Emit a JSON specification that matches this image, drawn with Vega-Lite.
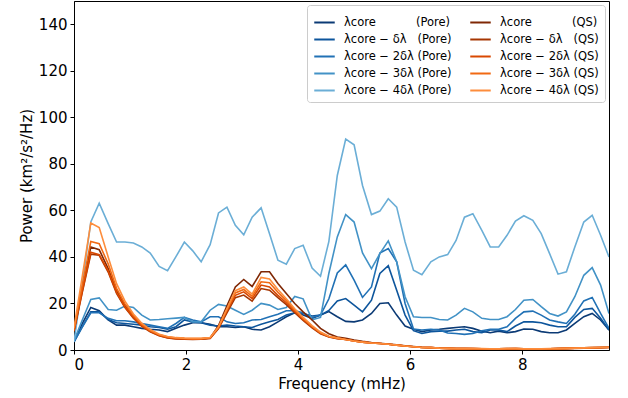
{
 "$schema": "https://vega.github.io/schema/vega-lite/v6.json",
 "width": 535, "height": 349,
 "autosize": {"type": "none"},
 "padding": {"left": 74, "top": 1, "right": 19, "bottom": 48},
 "background": "white",
 "data": {"values": [
  {"f":0,"p0":3.5,"p1":3.5,"p2":3.5,"p3":4,"p4":3.5,"q0":8.5,"q1":8,"q2":8.2,"q3":8.8,"q4":9.5},
  {"f":0.15,"p0":11.4,"p1":10,"p2":10,"p3":13,"p4":29,"q0":27,"q1":25,"q2":25.5,"q3":28,"q4":32},
  {"f":0.30,"p0":18.3,"p1":16.4,"p2":16,"p3":21.7,"p4":55,"q0":44.3,"q1":41.2,"q2":42,"q3":46.6,"q4":54.6},
  {"f":0.45,"p0":16.9,"p1":16.4,"p2":16,"p3":22.4,"p4":63.1,"q0":43.1,"q1":40.7,"q2":41,"q3":45.7,"q4":52.6},
  {"f":0.61,"p0":12.9,"p1":13.1,"p2":13.6,"p3":17.4,"p4":54.3,"q0":35,"q1":33.5,"q2":34,"q3":37,"q4":40},
  {"f":0.76,"p0":10.7,"p1":11.7,"p2":12.6,"p3":17.1,"p4":46.4,"q0":25.5,"q1":24.3,"q2":24.8,"q3":26.5,"q4":28.5},
  {"f":0.91,"p0":10.7,"p1":11.4,"p2":12.6,"p3":18.9,"p4":46.4,"q0":19,"q1":18.2,"q2":18.5,"q3":19.8,"q4":21},
  {"f":1.06,"p0":10,"p1":11.1,"p2":12.1,"p3":18.3,"p4":46,"q0":14.3,"q1":13.7,"q2":14,"q3":14.8,"q4":15.5},
  {"f":1.21,"p0":9.3,"p1":10.7,"p2":11.4,"p3":15,"p4":44.3,"q0":10.7,"q1":10.2,"q2":10.4,"q3":11,"q4":11.5},
  {"f":1.36,"p0":8.9,"p1":10,"p2":10.7,"p3":12.9,"p4":41.7,"q0":8.2,"q1":7.8,"q2":8,"q3":8.4,"q4":8.8},
  {"f":1.52,"p0":8.6,"p1":9.7,"p2":10,"p3":13.1,"p4":35.9,"q0":6.4,"q1":6.1,"q2":6.2,"q3":6.6,"q4":6.8},
  {"f":1.67,"p0":7.9,"p1":8.9,"p2":9.3,"p3":13.4,"p4":34.1,"q0":5.5,"q1":5.2,"q2":5.3,"q3":5.6,"q4":5.8},
  {"f":1.82,"p0":9.3,"p1":10,"p2":11.4,"p3":13.7,"p4":40.1,"q0":5.1,"q1":4.8,"q2":4.9,"q3":5.2,"q4":5.3},
  {"f":1.97,"p0":10.7,"p1":12.9,"p2":14,"p3":14,"p4":46.4,"q0":4.9,"q1":4.6,"q2":4.7,"q3":5.0,"q4":5.1},
  {"f":2.12,"p0":11.7,"p1":12.1,"p2":12.9,"p3":12.1,"p4":42.6,"q0":4.8,"q1":4.5,"q2":4.6,"q3":4.9,"q4":5.0},
  {"f":2.27,"p0":11.7,"p1":11.7,"p2":12.1,"p3":12.1,"p4":37.9,"q0":4.8,"q1":4.6,"q2":4.7,"q3":4.9,"q4":5.0},
  {"f":2.43,"p0":11.1,"p1":10.7,"p2":14.3,"p3":17.1,"p4":45.3,"q0":5.2,"q1":5.0,"q2":5.1,"q3":5.3,"q4":5.4},
  {"f":2.58,"p0":10,"p1":10.3,"p2":14.3,"p3":19.6,"p4":58.9,"q0":10.5,"q1":9.2,"q2":9.5,"q3":9.8,"q4":10},
  {"f":2.73,"p0":10,"p1":10.7,"p2":12.1,"p3":18.9,"p4":61.4,"q0":19,"q1":16,"q2":16.8,"q3":17.3,"q4":17.8},
  {"f":2.88,"p0":9.7,"p1":10.3,"p2":11.4,"p3":17.1,"p4":53.6,"q0":27.1,"q1":22.5,"q2":23.5,"q3":24.5,"q4":25.5},
  {"f":3.03,"p0":10,"p1":10,"p2":11.7,"p3":15.3,"p4":49.5,"q0":30.3,"q1":23.6,"q2":25,"q3":26,"q4":27.1},
  {"f":3.18,"p0":8.9,"p1":9.7,"p2":12.9,"p3":17.1,"p4":57.1,"q0":27.3,"q1":21,"q2":22.1,"q3":23.1,"q4":24},
  {"f":3.34,"p0":8.6,"p1":11.1,"p2":13.1,"p3":20,"p4":61.1,"q0":33.6,"q1":26.4,"q2":27.9,"q3":29.3,"q4":31.2},
  {"f":3.49,"p0":10,"p1":12.1,"p2":14.3,"p3":19.3,"p4":50,"q0":33.6,"q1":25.7,"q2":27.1,"q3":28.9,"q4":30.5},
  {"f":3.64,"p0":12.1,"p1":13.1,"p2":15.4,"p3":17.4,"p4":38.6,"q0":28.6,"q1":22.5,"q2":23.5,"q3":24.8,"q4":26},
  {"f":3.79,"p0":14.3,"p1":15,"p2":16.9,"p3":18.3,"p4":36.9,"q0":24.3,"q1":19.5,"q2":20.3,"q3":21.2,"q4":22},
  {"f":3.94,"p0":16,"p1":16,"p2":16.9,"p3":23,"p4":43.6,"q0":20,"q1":16,"q2":16.6,"q3":17.2,"q4":17.7},
  {"f":4.09,"p0":15,"p1":15.7,"p2":16,"p3":22,"p4":45,"q0":16.4,"q1":12.7,"q2":13.1,"q3":13.6,"q4":14},
  {"f":4.25,"p0":13.6,"p1":14.6,"p2":14,"p3":13,"p4":35.2,"q0":12.9,"q1":9.5,"q2":9.8,"q3":10.1,"q4":10.5},
  {"f":4.40,"p0":15,"p1":15,"p2":15,"p3":14,"p4":31.7,"q0":9.3,"q1":7,"q2":7.2,"q3":7.4,"q4":7.7},
  {"f":4.55,"p0":16.5,"p1":17,"p2":22,"p3":33,"p4":46.7,"q0":7,"q1":5.6,"q2":5.7,"q3":5.8,"q4":5.9},
  {"f":4.70,"p0":14.3,"p1":21.1,"p2":33.1,"p3":48.6,"p4":75,"q0":5.6,"q1":4.9,"q2":5,"q3":5.1,"q4":5.2},
  {"f":4.85,"p0":12.3,"p1":22.1,"p2":36.6,"p3":58.2,"p4":90.7,"q0":5,"q1":4.5,"q2":4.5,"q3":4.5,"q4":4.5},
  {"f":5.00,"p0":12.1,"p1":19.3,"p2":30,"p3":55,"p4":88.2,"q0":4.3,"q1":3.9,"q2":3.9,"q3":3.9,"q4":3.9},
  {"f":5.15,"p0":12.9,"p1":16.4,"p2":22.6,"p3":41.7,"p4":70.7,"q0":3.7,"q1":3.4,"q2":3.4,"q3":3.4,"q4":3.4},
  {"f":5.31,"p0":15.7,"p1":21.4,"p2":27.1,"p3":35,"p4":58.2,"q0":3.2,"q1":3.0,"q2":3.0,"q3":3.0,"q4":3.0},
  {"f":5.46,"p0":20,"p1":32.9,"p2":41.7,"p3":41.4,"p4":59.7,"q0":2.9,"q1":2.8,"q2":2.8,"q3":2.8,"q4":2.8},
  {"f":5.61,"p0":20.3,"p1":36.2,"p2":43.6,"p3":46.9,"p4":65,"q0":2.6,"q1":2.5,"q2":2.5,"q3":2.5,"q4":2.5},
  {"f":5.76,"p0":15,"p1":25.7,"p2":37.9,"p3":37.9,"p4":61.4,"q0":2.2,"q1":2.1,"q2":2.1,"q3":2.1,"q4":2.1},
  {"f":5.91,"p0":10.3,"p1":15,"p2":20,"p3":22.9,"p4":46.4,"q0":1.8,"q1":1.7,"q2":1.7,"q3":1.7,"q4":1.7},
  {"f":6.06,"p0":8.9,"p1":8.3,"p2":9,"p3":14.3,"p4":34.3,"q0":1.5,"q1":1.4,"q2":1.4,"q3":1.4,"q4":1.4},
  {"f":6.21,"p0":7.9,"p1":7.1,"p2":8.6,"p3":14,"p4":32.4,"q0":1.2,"q1":1.1,"q2":1.1,"q3":1.1,"q4":1.1},
  {"f":6.37,"p0":8.6,"p1":7.9,"p2":8.9,"p3":14,"p4":37.9,"q0":1.0,"q1":1.0,"q2":1.0,"q3":1.0,"q4":1.0},
  {"f":6.52,"p0":8.9,"p1":8.1,"p2":8.6,"p3":13.1,"p4":40,"q0":0.8,"q1":0.8,"q2":0.8,"q3":0.8,"q4":0.8},
  {"f":6.67,"p0":9.3,"p1":8.1,"p2":7.3,"p3":12.9,"p4":41,"q0":0.7,"q1":0.7,"q2":0.7,"q3":0.7,"q4":0.7},
  {"f":6.82,"p0":9.7,"p1":8.6,"p2":7.1,"p3":15,"p4":47.1,"q0":0.6,"q1":0.6,"q2":0.6,"q3":0.6,"q4":0.6},
  {"f":6.97,"p0":10,"p1":8.9,"p2":6.7,"p3":17.9,"p4":57.1,"q0":0.6,"q1":0.6,"q2":0.6,"q3":0.6,"q4":0.6},
  {"f":7.12,"p0":9.3,"p1":7.9,"p2":7.1,"p3":16.4,"p4":58.6,"q0":0.6,"q1":0.5,"q2":0.6,"q3":0.6,"q4":0.6},
  {"f":7.28,"p0":8.1,"p1":7.4,"p2":8.3,"p3":13.6,"p4":51.4,"q0":0.5,"q1":0.5,"q2":0.5,"q3":0.5,"q4":0.6},
  {"f":7.43,"p0":7.4,"p1":8.6,"p2":8.9,"p3":13.1,"p4":44.3,"q0":0.5,"q1":0.5,"q2":0.5,"q3":0.5,"q4":0.5},
  {"f":7.58,"p0":8.1,"p1":8.6,"p2":8.9,"p3":13.1,"p4":44.3,"q0":0.5,"q1":0.5,"q2":0.5,"q3":0.5,"q4":0.5},
  {"f":7.73,"p0":7.4,"p1":7.9,"p2":10,"p3":14.3,"p4":49.3,"q0":0.6,"q1":0.5,"q2":0.5,"q3":0.6,"q4":0.6},
  {"f":7.88,"p0":7.9,"p1":10.3,"p2":13.6,"p3":17.4,"p4":55.4,"q0":0.6,"q1":0.5,"q2":0.6,"q3":0.6,"q4":0.6},
  {"f":8.03,"p0":9,"p1":12.1,"p2":16.4,"p3":21.4,"p4":57.7,"q0":0.5,"q1":0.5,"q2":0.5,"q3":0.5,"q4":0.5},
  {"f":8.19,"p0":8.9,"p1":12.1,"p2":16.7,"p3":21.7,"p4":55.7,"q0":0.5,"q1":0.5,"q2":0.5,"q3":0.5,"q4":0.5},
  {"f":8.34,"p0":7.9,"p1":11.7,"p2":15,"p3":18.6,"p4":50,"q0":0.5,"q1":0.5,"q2":0.5,"q3":0.5,"q4":0.5},
  {"f":8.49,"p0":7.4,"p1":10.7,"p2":12.9,"p3":15.7,"p4":41.4,"q0":0.5,"q1":0.5,"q2":0.5,"q3":0.5,"q4":0.6},
  {"f":8.64,"p0":7.4,"p1":10,"p2":12.1,"p3":14.6,"p4":32.6,"q0":0.6,"q1":0.6,"q2":0.6,"q3":0.6,"q4":0.6},
  {"f":8.79,"p0":8.6,"p1":10,"p2":11.4,"p3":16.4,"p4":33.6,"q0":0.7,"q1":0.6,"q2":0.7,"q3":0.7,"q4":0.7},
  {"f":8.94,"p0":11.4,"p1":14,"p2":15.4,"p3":22.9,"p4":44.3,"q0":0.8,"q1":0.7,"q2":0.8,"q3":0.8,"q4":0.8},
  {"f":9.10,"p0":14.3,"p1":17.4,"p2":21.1,"p3":32.1,"p4":55,"q0":0.9,"q1":0.8,"q2":0.8,"q3":0.9,"q4":0.9},
  {"f":9.25,"p0":15.7,"p1":17.9,"p2":22.6,"p3":35.4,"p4":57.9,"q0":1.0,"q1":0.9,"q2":0.9,"q3":1.0,"q4":1.0},
  {"f":9.40,"p0":12.9,"p1":13.6,"p2":15.7,"p3":27.9,"p4":49.3,"q0":1.1,"q1":1.0,"q2":1.0,"q3":1.1,"q4":1.1},
  {"f":9.55,"p0":8.6,"p1":8.6,"p2":9.3,"p3":15.7,"p4":40,"q0":1.2,"q1":1.1,"q2":1.1,"q3":1.2,"q4":1.2}
 ]},
 "transform": [{"fold": ["p0","p1","p2","p3","p4","q0","q1","q2","q3","q4"], "as": ["s","v"]}],
 "encoding": {
  "x": {"field": "f", "type": "quantitative",
        "scale": {"domain": [0, 9.55], "nice": false, "zero": false},
        "axis": {"title": "Frequency (mHz)", "values": [0,2,4,6,8], "format": "d"}},
  "y": {"field": "v", "type": "quantitative",
        "scale": {"domain": [0, 150], "nice": false},
        "axis": {"title": "Power (km²/s²/Hz)", "values": [0,20,40,60,80,100,120,140]}},
  "color": {"field": "s", "type": "nominal",
   "scale": {"domain": ["p0","p1","p2","p3","p4","q0","q1","q2","q3","q4"],
             "range": ["#0b3a75","#0d559c","#2171b5","#4292c6","#6baed6","#7f2704","#a63603","#d94801","#f16913","#fd8d3c"]},
   "legend": {"title": null, "orient": "top-right", "columns": 2, "offset": 4,
     "symbolType": "stroke", "symbolStrokeWidth": 2, "symbolSize": 420,
     "labelFont": "DejaVu Sans", "labelFontSize": 11.5, "labelColor": "black", "labelLimit": 300,
     "strokeColor": "#cccccc", "fillColor": "rgba(255,255,255,0.8)", "padding": 6, "cornerRadius": 3,
     "rowPadding": 0, "columnPadding": 14, "labelOffset": 8,
     "labelExpr": "datum.label=='p0'?'λcore\u00a0\u00a0\u00a0\u00a0\u00a0\u00a0\u00a0\u00a0\u00a0\u00a0\u00a0(Pore)':datum.label=='p1'?'λcore − δλ\u00a0\u00a0\u00a0(Pore)':datum.label=='p2'?'λcore − 2δλ (Pore)':datum.label=='p3'?'λcore − 3δλ (Pore)':datum.label=='p4'?'λcore − 4δλ (Pore)':datum.label=='q0'?'λcore\u00a0\u00a0\u00a0\u00a0\u00a0\u00a0\u00a0\u00a0\u00a0\u00a0\u00a0(QS)':datum.label=='q1'?'λcore − δλ\u00a0\u00a0\u00a0(QS)':datum.label=='q2'?'λcore − 2δλ (QS)':datum.label=='q3'?'λcore − 3δλ (QS)':'λcore − 4δλ (QS)'"}}
 },
 "layer": [
  {"transform": [{"filter": "indexof(datum.s,'p')==0"}], "mark": {"type": "line", "strokeWidth": 1.6, "clip": true}},
  {"transform": [{"filter": "indexof(datum.s,'q')==0"}], "mark": {"type": "line", "strokeWidth": 1.6, "clip": true}}
 ],
 "config": {
  "font": "DejaVu Sans",
  "view": {"stroke": "black", "strokeWidth": 1},
  "axis": {"labelFont": "DejaVu Sans", "labelFontSize": 15, "titleFont": "DejaVu Sans", "titleFontSize": 15,
           "titleFontWeight": "normal", "labelColor": "black", "titleColor": "black",
           "domainColor": "black", "tickColor": "black", "tickSize": 4, "grid": false, "labelPadding": 3}
 }
}
